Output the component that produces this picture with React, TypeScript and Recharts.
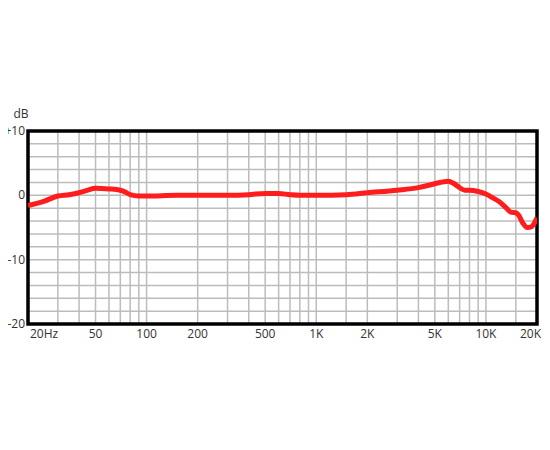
import React from "react";
import { LineChart, Line, XAxis, YAxis, CartesianGrid, ReferenceArea } from "recharts";

// frequency response (Hz -> dB)
const freqs = [
  20, 25, 30, 35, 40, 45, 50, 60, 70, 75, 80, 90, 100, 150, 200, 300, 400, 500, 600, 700, 800,
  1000, 1500, 2000, 3000, 4000, 5000, 6000, 6500, 7000, 7500, 8000, 9000, 10000, 11000, 12000,
  13000, 14000, 15000, 15500, 16500, 17500, 18500, 19300, 20000,
];
const levels = [
  -1.6, -0.9, -0.1, 0.1, 0.4, 0.8, 1.1, 1.0, 0.8, 0.5, 0.1, -0.1, -0.1, 0, 0, 0, 0.1, 0.3, 0.3, 0.1, 0,
  0, 0.1, 0.4, 0.8, 1.2, 1.8, 2.2, 1.8, 1.2, 0.8, 0.8, 0.6, 0.2, -0.4, -1.0,
  -1.8, -2.6, -2.7, -3.0, -4.3, -5.0, -4.9, -4.3, -3.5,
];

// grid lines and labels
const gridFreqs = [
  20, 30, 40, 50, 60, 70, 80, 90, 100, 200, 300, 400, 500, 600, 700, 800, 900, 1000, 1500, 2000,
  3000, 4000, 5000, 6000, 7000, 8000, 9000, 10000, 15000, 20000,
];
const labelFreqs = [20, 50, 100, 200, 500, 1000, 2000, 5000, 10000, 20000];
const freqLabels = ["20Hz", "50", "100", "200", "500", "1K", "2K", "5K", "10K", "20K"];

const dbTicks = [-20, -18, -16, -14, -12, -10, -8, -6, -4, -2, 0, 2, 4, 6, 8, 10];
const dbLabelValues = [-20, -10, 0, 10];
const dbLabels = ["-20", "-10", "0", "+10"];

const data = freqs.map((f, i) => ({ f, db: levels[i] }));

const FONT = "'Open Sans', sans-serif";

const FreqTick = (props: any) => {
  const { x, y, payload } = props;
  const i = labelFreqs.indexOf(payload.value);
  if (i < 0) return <g />;
  const last = i === labelFreqs.length - 1;
  const anchor = i === 0 ? "start" : last ? "end" : "middle";
  const dx = i === 0 ? 2 : last ? 4 : 0;
  return (
    <text x={x + dx} y={y} dy={12} textAnchor={anchor} fontSize={12} fontFamily={FONT} fill="#333">
      {freqLabels[i]}
    </text>
  );
};

const DbTick = (props: any) => {
  const { x, y, payload } = props;
  const i = dbLabelValues.indexOf(payload.value);
  if (i < 0) return <g />;
  return (
    <text x={x} y={y} dy={4} textAnchor="end" fontSize={12} fontFamily={FONT} fill="#333">
      {dbLabels[i]}
    </text>
  );
};

export default function App() {
  return (
    <div style={{ margin: "-8px 0 0 -8px" }}>
      <LineChart width={550} height={450} data={data} margin={{ top: 131, right: 13, left: 0, bottom: 96 }}>
        <CartesianGrid stroke="#bcbcbc" strokeWidth={1.5} />
        <XAxis
          dataKey="f"
          type="number"
          scale="log"
          domain={[20, 20000]}
          ticks={gridFreqs}
          interval={0}
          allowDataOverflow
          axisLine={false}
          tickLine={false}
          tickSize={0}
          tickMargin={2}
          height={30}
          tick={<FreqTick />}
        />
        <YAxis
          type="number"
          domain={[-20, 10]}
          ticks={dbTicks}
          interval={0}
          axisLine={false}
          tickLine={false}
          tickSize={0}
          tickMargin={3}
          width={28}
          tick={<DbTick />}
          label={{ value: "dB", position: "top", offset: 13, dx: 7, fontSize: 12, fontFamily: FONT, fill: "#333" }}
        />
        <Line
          type="monotone"
          dataKey="db"
          stroke="#ff1c1c"
          strokeWidth={5}
          dot={false}
          isAnimationActive={false}
        />
        <ReferenceArea
          x1={20}
          x2={20000}
          y1={-20}
          y2={10}
          fill="none"
          fillOpacity={0}
          stroke="#000"
          strokeWidth={3.5}
          ifOverflow="visible"
        />
      </LineChart>
    </div>
  );
}
